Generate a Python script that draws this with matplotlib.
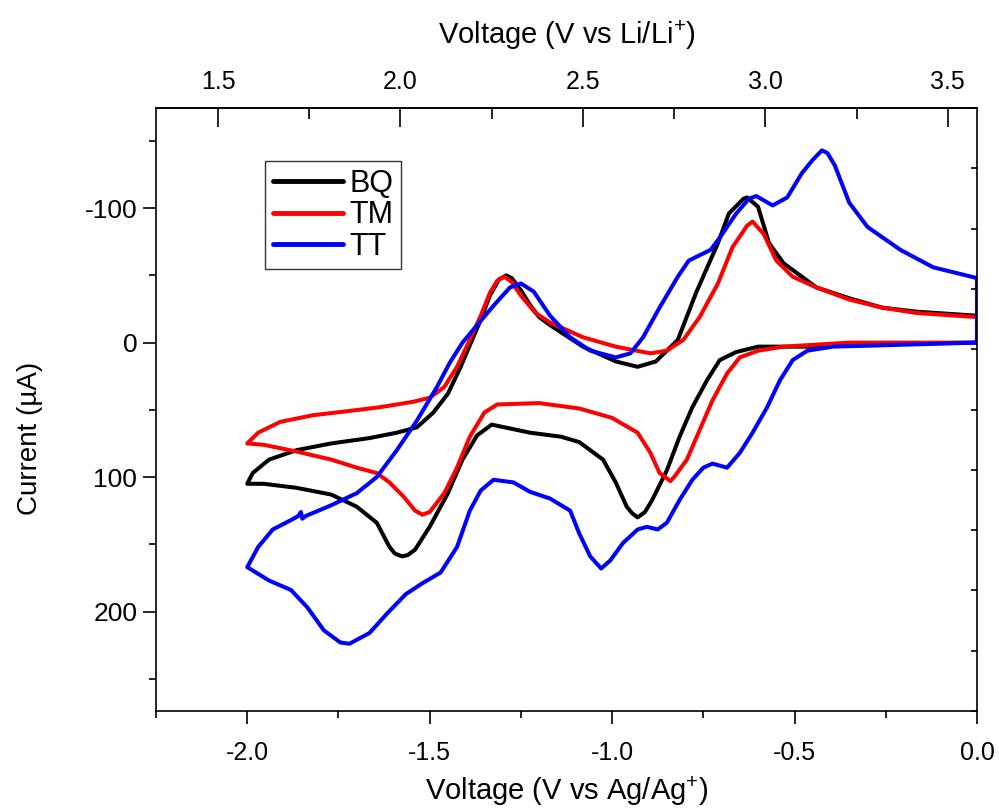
import matplotlib
matplotlib.use("Agg")
import matplotlib.pyplot as plt
import numpy as np

# cyclic voltammograms (V vs Ag/Ag+, current in uA)
bq_v = [0.00, -0.26, -0.44, -0.60, -0.66, -0.705, -0.74, -0.78, -0.815, -0.85,
        -0.89, -0.91, -0.93, -0.945, -0.96, -0.99, -1.025, -1.09, -1.14, -1.225, -1.33,
        -1.37, -1.41, -1.45, -1.50, -1.54, -1.56, -1.575, -1.595, -1.61, -1.645, -1.70, -1.77,
        -1.865, -1.955, -2.00,
        -1.985, -1.94, -1.865, -1.77, -1.665, -1.59, -1.535, -1.49, -1.45, -1.415,
        -1.39, -1.36, -1.335, -1.31, -1.29, -1.275, -1.25, -1.225, -1.20, -1.17,
        -1.08, -0.99, -0.93, -0.88, -0.82, -0.77, -0.71, -0.68, -0.64, -0.63,
        -0.60, -0.57, -0.53, -0.44, -0.35, -0.26, -0.165, 0.00, 0.00]
bq_i = [0, 1, 3, 3, 7, 13, 28, 48, 70, 95,
        117, 126, 130, 127, 122, 104, 87, 74, 70, 67, 61,
        69, 87, 112, 137, 154, 158, 159, 157, 152, 134, 122, 113,
        108, 105, 105,
        97, 87, 80, 75, 71, 67, 63, 52, 38, 18,
        2, -17, -35, -47, -50, -48, -39, -28, -19, -13,
        3, 14, 18, 14, -2, -37, -74, -96, -107, -108,
        -101, -74, -59, -41, -33, -26, -23, -20, 0]

tm_v = [0.00, -0.35, -0.53, -0.60, -0.65, -0.685, -0.725, -0.76, -0.795, -0.83,
        -0.84, -0.87, -0.895, -0.93, -1.00, -1.09, -1.20, -1.315, -1.35, -1.39,
        -1.425, -1.46, -1.50, -1.52, -1.54, -1.57, -1.61, -1.645, -1.70, -1.77,
        -1.865, -1.955, -2.00,
        -1.97, -1.91, -1.82, -1.725, -1.635, -1.545, -1.50, -1.46, -1.425, -1.39,
        -1.36, -1.335, -1.315, -1.295, -1.275, -1.25, -1.21, -1.17, -1.08, -0.99,
        -0.895, -0.85, -0.805, -0.76, -0.71, -0.67, -0.63, -0.615, -0.585, -0.55,
        -0.505, -0.44, -0.35, -0.26, -0.165, 0.00, 0.00]
tm_i = [0, 0, 3, 6, 11, 23, 43, 65, 87, 100,
        103, 97, 82, 67, 56, 49, 45, 46, 52, 70,
        93, 112, 126, 128, 125, 115, 104, 97, 93, 87,
        81, 76, 75,
        67, 59, 54, 51, 48, 44, 41, 33, 18, -2,
        -20, -37, -46, -49, -45, -35, -22, -15, -4, 3,
        8, 6, -2, -19, -44, -71, -87, -90, -81, -61,
        -49, -41, -32, -26, -22, -19, 0]

tt_v = [0.00, -0.26, -0.395, -0.465, -0.505, -0.54, -0.575, -0.615, -0.65, -0.685,
        -0.725, -0.75, -0.78, -0.815, -0.85, -0.875, -0.905, -0.93, -0.97, -1.005,
        -1.03, -1.06, -1.09, -1.115, -1.17, -1.225, -1.27, -1.325, -1.36, -1.39,
        -1.425, -1.47, -1.52, -1.565, -1.615, -1.665, -1.72, -1.745, -1.79, -1.835,
        -1.88, -1.94, -2.00,
        -1.97, -1.93, -1.88, -1.86, -1.853, -1.849, -1.84, -1.77, -1.70, -1.645,
        -1.59, -1.535, -1.48, -1.445, -1.41, -1.37, -1.32, -1.28, -1.25, -1.215,
        -1.17, -1.115, -1.06, -0.99, -0.95, -0.915, -0.87, -0.82, -0.79, -0.73,
        -0.705, -0.66, -0.625, -0.605, -0.56, -0.52, -0.48, -0.45, -0.425, -0.41,
        -0.39, -0.35, -0.30, -0.21, -0.12, 0.00, 0.00]
tt_i = [0, 2, 3, 6, 13, 28, 48, 67, 82, 93,
        90, 93, 102, 117, 134, 139, 137, 139, 149, 162,
        168, 159, 142, 125, 116, 111, 104, 102, 110, 125,
        152, 171, 179, 187, 201, 216, 224, 223, 214, 197,
        184, 177, 167,
        152, 139, 132, 129, 126, 131, 129, 121, 112, 100,
        80, 58, 33, 15, 0, -13, -29, -41, -44, -38,
        -20, -4, 6, 11, 8, -4, -26, -49, -61, -69,
        -78, -96, -107, -109, -102, -108, -126, -136, -143, -141,
        -132, -104, -86, -69, -56, -48, 0]

li_offset = 3.58  # V vs Li/Li+ = V vs Ag/Ag+ + offset

plt.rcParams['axes.unicode_minus'] = False
plt.rcParams['mathtext.fontset'] = 'custom'
plt.rcParams['mathtext.rm'] = 'Liberation Sans'
plt.rcParams['font.family'] = ['Liberation Sans', 'DejaVu Sans']

fig = plt.figure(figsize=(9.99, 8.10), dpi=100)
ax = fig.add_axes([156/999, 99/810, 821/999, 603/810])

kw = dict(lw=2.9, solid_joinstyle='round', solid_capstyle='round')
ax.plot(bq_v, bq_i, color='k', label='BQ', **kw)
ax.plot(tm_v, tm_i, color='#ff0000', label='TM', **kw)
ax.plot(tt_v, tt_i, color='#0000ff', label='TT', **kw)

ax.set_xlim(-2.25, 0)
ax.set_ylim(274, -174.5)
ax.set_xticks(np.arange(-2.0, 0.01, 0.5))
ax.set_xticks(np.arange(-2.25, 0, 0.5), minor=True)
ax.set_yticks([-100, 0, 100, 200])
ax.set_yticks([-150, -50, 50, 150, 250], minor=True)
ax.xaxis.set_major_formatter(matplotlib.ticker.FormatStrFormatter('%.1f'))

for s in ax.spines.values():
    s.set_linewidth(1.2)
ax.tick_params(which='both', direction='out', width=1.2, top=False, right=False)
ax.tick_params(which='major', length=9.5)
ax.tick_params(which='minor', length=5)
ax.tick_params(axis='x', labelsize=18, pad=12)
ax.tick_params(axis='y', labelsize=19, pad=4)

ax.set_xlabel('Voltage (V vs Ag/Ag$^{+}$)', fontsize=21, labelpad=7)
ax.set_ylabel('Current (\u00b5A)', fontsize=20)
ax.yaxis.set_label_coords(-0.138, 0.452)

top = ax.secondary_xaxis('top', functions=(lambda x: x + li_offset, lambda x: x - li_offset))
top.set_xticks(np.arange(1.5, 3.51, 0.5))
top.set_xticks(np.arange(1.75, 3.3, 0.5), minor=True)
top.xaxis.set_major_formatter(matplotlib.ticker.FormatStrFormatter('%.1f'))
top.tick_params(which='both', direction='in', width=1.2, labelsize=18, pad=10)
top.tick_params(which='major', length=14)
top.tick_params(which='minor', length=8)
top.spines['top'].set_linewidth(1.2)
top.set_xlabel('Voltage (V vs Li/Li$^{+}$)', fontsize=21, labelpad=19)

right = ax.twinx()
right.set_ylim(9, -1)
right.set_yticks(np.arange(-1, 9.5, 1))
right.tick_params(direction='in', length=4, width=1.2, labelright=False)
for s in right.spines.values():
    s.set_visible(False)

leg = ax.legend(loc='upper left', bbox_to_anchor=(0.133, 0.912), fontsize=22,
                frameon=True, fancybox=False, edgecolor='k', handlelength=2.3,
                handletextpad=0.2, labelspacing=0.05, borderpad=0.25,
                borderaxespad=0)
leg.get_frame().set_linewidth(1.0)
for line in leg.get_lines():
    line.set_linewidth(3.5)

fig.savefig('out.png', dpi=100)
